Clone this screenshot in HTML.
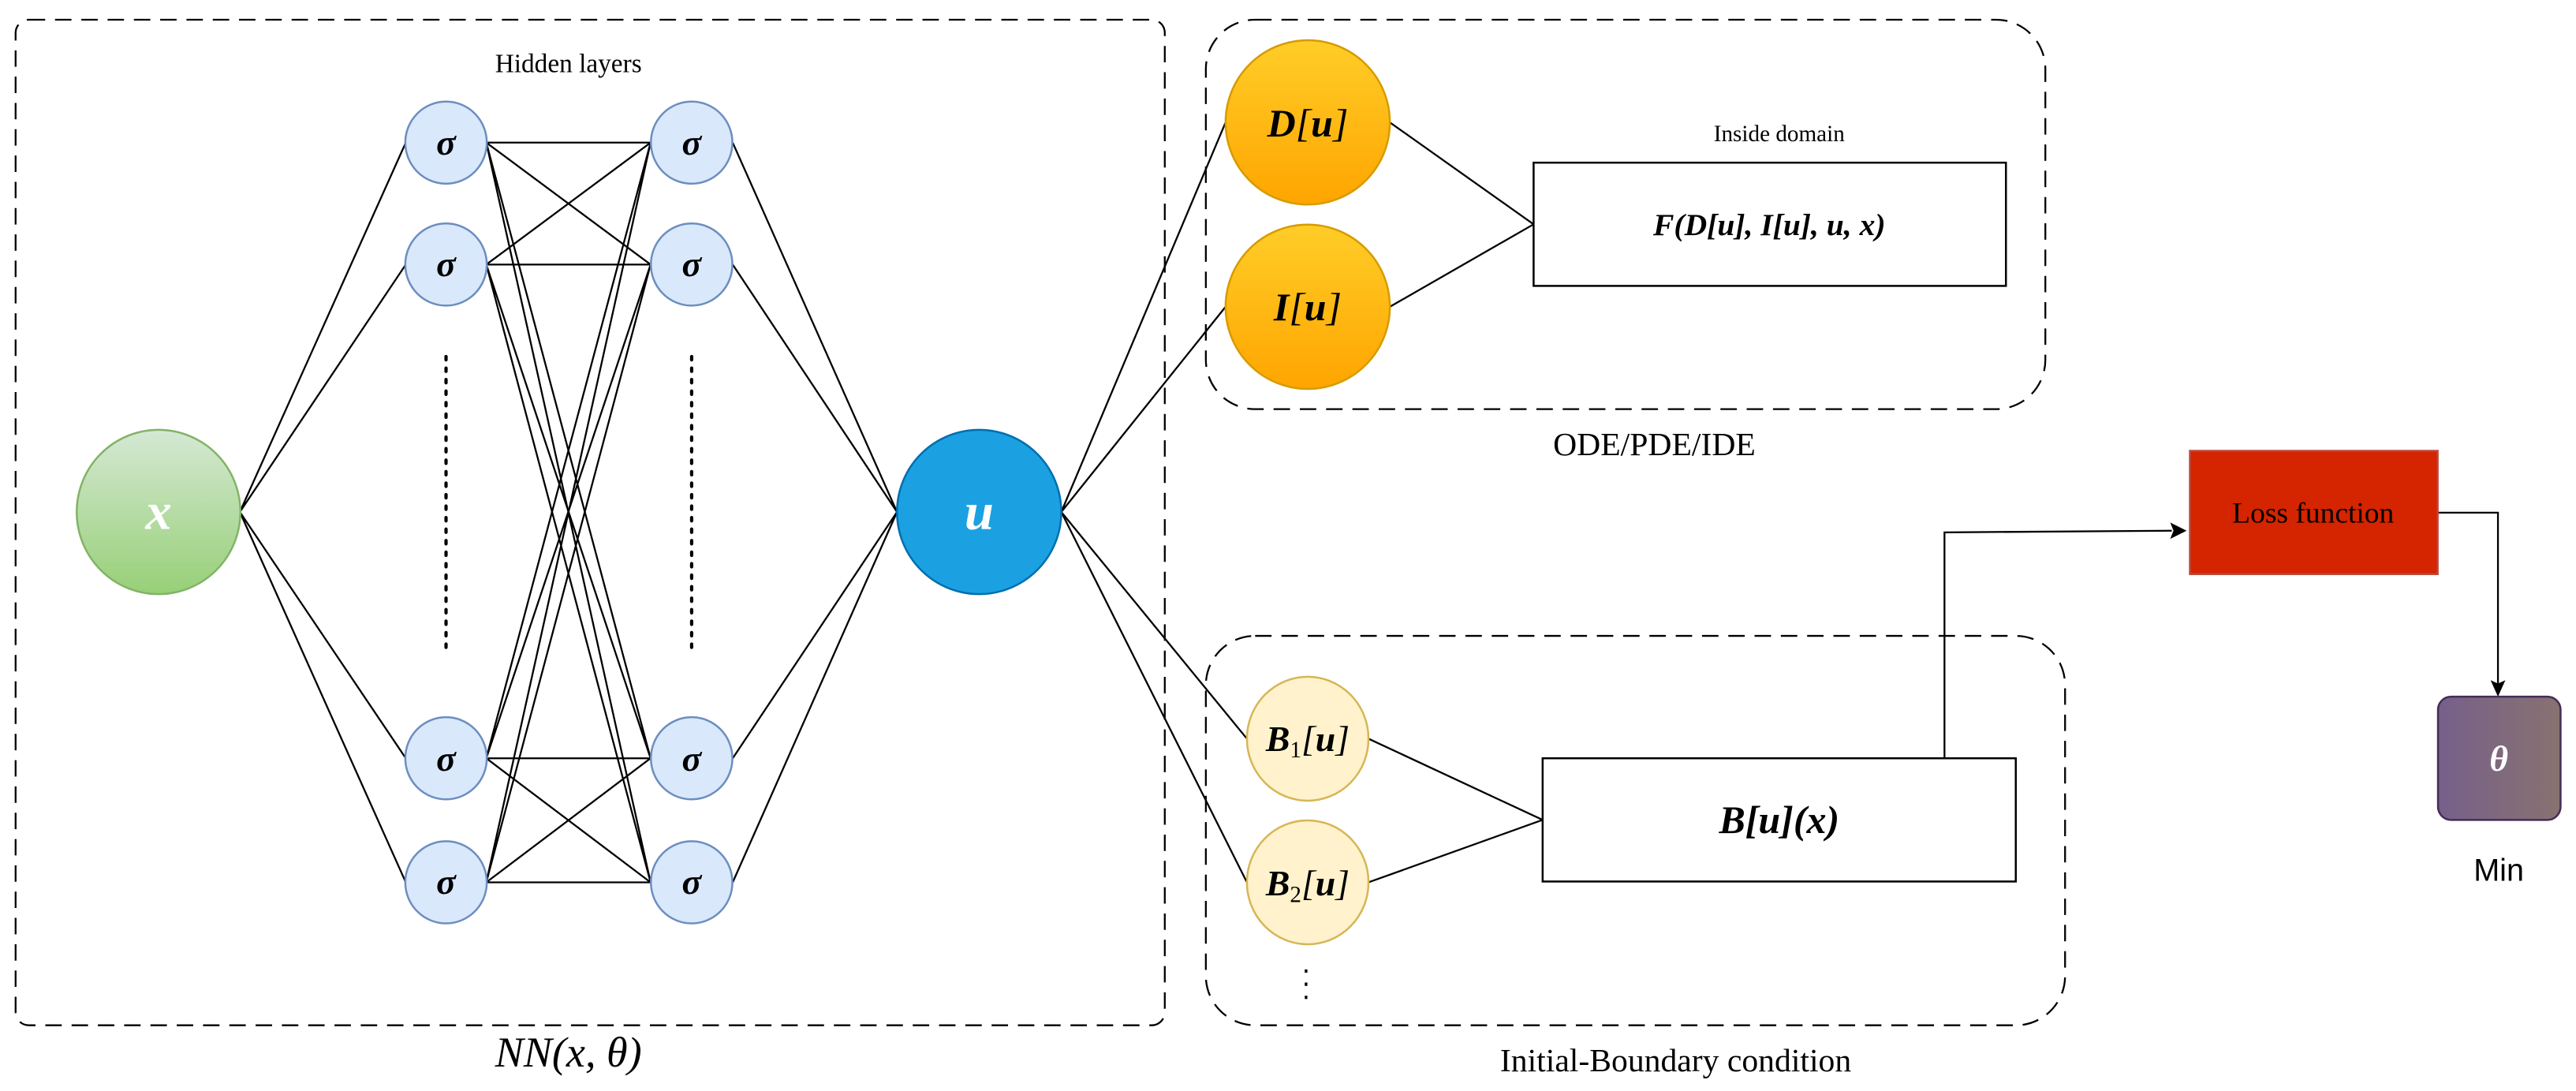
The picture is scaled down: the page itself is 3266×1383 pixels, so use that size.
<!DOCTYPE html>
<html><head><meta charset="utf-8"><style>html,body{margin:0;padding:0;background:#fff}svg{display:block}</style></head>
<body>
<svg width="3266" height="1383" viewBox="0 0 1568 664" preserveAspectRatio="none" xmlns="http://www.w3.org/2000/svg" font-family="Liberation Serif, serif">
<defs>
<linearGradient id="gx" x1="0" y1="0" x2="0" y2="1"><stop offset="0" stop-color="#d5e8d4"/><stop offset="1" stop-color="#97d077"/></linearGradient>
<linearGradient id="go" x1="0" y1="0" x2="0" y2="1"><stop offset="0" stop-color="#ffcd28"/><stop offset="1" stop-color="#ffa500"/></linearGradient>
<linearGradient id="gt" x1="0" y1="0" x2="1" y2="0"><stop offset="0" stop-color="#76608a"/><stop offset="1" stop-color="#887270"/></linearGradient>
</defs>
<g fill="none" stroke="#000" stroke-width="1.1" stroke-dasharray="10,6">
<rect x="9.5" y="12" width="699.5" height="612" rx="8"/>
<rect x="734" y="12" width="511" height="237" rx="30"/>
<rect x="734" y="387" width="523" height="237" rx="30"/>
</g>
<g stroke="#000" stroke-width="1.1" fill="none">
<path d="M146 311.6L247 86.8M146 311.6L247 161M146 311.6L247 461.5M146 311.6L247 537"/>
<path d="M296 86.8L396 86.8M296 86.8L396 161M296 86.8L396 461.5M296 86.8L396 537
M296 161L396 86.8M296 161L396 161M296 161L396 461.5M296 161L396 537
M296 461.5L396 86.8M296 461.5L396 161M296 461.5L396 461.5M296 461.5L396 537
M296 537L396 86.8M296 537L396 161M296 537L396 461.5M296 537L396 537"/>
<path d="M446 86.8L546 311.6M446 161L546 311.6M446 461.5L546 311.6M446 537L546 311.6"/>
<path d="M646 311.6L746 74.5M646 311.6L746 186.7M646 311.6L759 449.6M646 311.6L759 537"/>
<path d="M846 74.5L933.5 136.5M846 186.7L933.5 136.5M833 449.6L939 499M833 537L939 499"/>
<path d="M1183.6 461.5L1183.6 324L1322 323"/>
<path d="M1484 312L1520.5 312L1520.5 416"/>
</g>
<path d="M1331 323L1321 318L1323 323L1321 328Z" fill="#000"/>
<path d="M1520.5 424L1516 414L1520.5 416L1525 414Z" fill="#000"/>
<g stroke="#000" stroke-width="2" stroke-dasharray="2,5" stroke-linecap="round">
<path d="M271.5 217V398M421 217V398"/>
</g>
<path d="M795 590V610" stroke="#000" stroke-width="1.6" stroke-dasharray="2,6"/>
<ellipse cx="96.5" cy="311.6" rx="49.8" ry="50" fill="url(#gx)" stroke="#82b366" stroke-width="1.2"/>
<ellipse cx="596" cy="311.6" rx="50" ry="50" fill="#1ba1e2" stroke="#006eaf" stroke-width="1.2"/>
<g fill="#dae8fc" stroke="#6c8ebf" stroke-width="1.2">
<ellipse cx="271.5" cy="86.8" rx="24.8" ry="25"/><ellipse cx="271.5" cy="161" rx="24.8" ry="25"/>
<ellipse cx="271.5" cy="461.5" rx="24.8" ry="25"/><ellipse cx="271.5" cy="537" rx="24.8" ry="25"/>
<ellipse cx="421" cy="86.8" rx="24.8" ry="25"/><ellipse cx="421" cy="161" rx="24.8" ry="25"/>
<ellipse cx="421" cy="461.5" rx="24.8" ry="25"/><ellipse cx="421" cy="537" rx="24.8" ry="25"/>
</g>
<g fill="url(#go)" stroke="#d79b00" stroke-width="1.2">
<ellipse cx="796" cy="74.5" rx="50" ry="50"/><ellipse cx="796" cy="186.7" rx="50" ry="50"/>
</g>
<g fill="#fff2cc" stroke="#d6b656" stroke-width="1.2">
<ellipse cx="796" cy="449.6" rx="37" ry="37.7"/><ellipse cx="796" cy="537" rx="37" ry="37.7"/>
</g>
<rect x="933.5" y="99" width="287.5" height="75" fill="#fff" stroke="#000" stroke-width="1.2"/>
<rect x="939" y="461.5" width="288" height="75" fill="#fff" stroke="#000" stroke-width="1.2"/>
<rect x="1333" y="274.4" width="150.8" height="75" fill="#d42400" stroke="#c0463a" stroke-width="1.2"/>
<rect x="1484" y="424" width="74.6" height="75" rx="8" fill="url(#gt)" stroke="#432d57" stroke-width="1.2"/>
<g text-anchor="middle" font-style="italic" font-weight="bold">
<text x="96.5" y="322" font-size="32" fill="#fff">x</text>
<text x="596" y="322" font-size="32" fill="#fff">u</text>
<g font-size="22" fill="#000">
<text x="271.5" y="94">σ</text><text x="271.5" y="168">σ</text><text x="271.5" y="469">σ</text><text x="271.5" y="544">σ</text>
<text x="421" y="94">σ</text><text x="421" y="168">σ</text><text x="421" y="469">σ</text><text x="421" y="544">σ</text>
</g>
<text x="796" y="83" font-size="24" fill="#000">D<tspan font-weight="normal">[</tspan>u<tspan font-weight="normal">]</tspan></text>
<text x="796" y="195" font-size="24" fill="#000">I<tspan font-weight="normal">[</tspan>u<tspan font-weight="normal">]</tspan></text>
<text x="796" y="457" font-size="22" fill="#000">B<tspan font-size="14" font-style="normal" font-weight="normal" dy="4">1</tspan><tspan dy="-4" font-weight="normal">[</tspan>u<tspan font-weight="normal">]</tspan></text>
<text x="796" y="545" font-size="22" fill="#000">B<tspan font-size="14" font-style="normal" font-weight="normal" dy="4">2</tspan><tspan dy="-4" font-weight="normal">[</tspan>u<tspan font-weight="normal">]</tspan></text>
<text x="1077" y="143" font-size="19" fill="#000">F(D[u], I[u], u, x)</text>
<text x="1083" y="507" font-size="24" fill="#000">B[u](x)</text>
<text x="346" y="649" font-size="26" fill="#000" font-weight="normal">NN(x, θ)</text>
<text x="1521" y="469" font-size="22" fill="#fff">θ</text>
</g>
<g text-anchor="middle" fill="#000">
<text x="346" y="44" font-size="16">Hidden layers</text>
<text x="1083" y="86" font-size="14">Inside domain</text>
<text x="1007" y="277" font-size="20">ODE/PDE/IDE</text>
<text x="1020" y="652" font-size="20">Initial-Boundary condition</text>
<text x="1408" y="318" font-size="18">Loss function</text>
<text x="1521" y="536" font-size="19" font-family="Liberation Sans, sans-serif">Min</text>
</g>
</svg>
</body></html>
